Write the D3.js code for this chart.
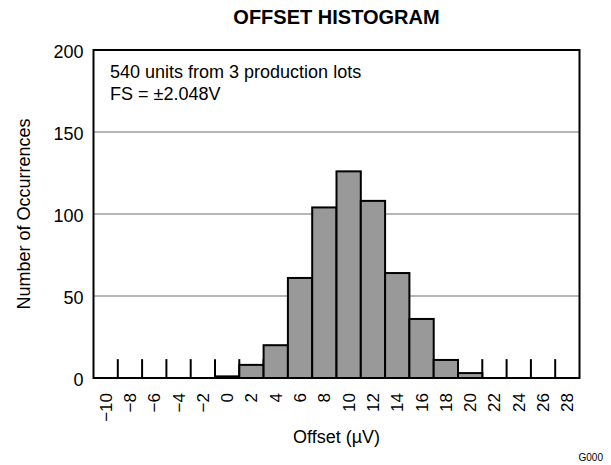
<!DOCTYPE html>
<html>
<head>
<meta charset="utf-8">
<script src="https://cdn.jsdelivr.net/npm/d3@7"></script>
<style>
  body { margin: 0; background: #fff; }
  svg text { font-family: "Liberation Sans", Arial, sans-serif; fill: #000; }
</style>
</head>
<body>
<div id="container"></div>
<script>
// offset bins (uV) and counts
const bins = [-10, -8, -6, -4, -2, 0, 2, 4, 6, 8, 10, 12, 14, 16, 18, 20, 22, 24, 26, 28];
const counts = [0, 0, 0, 0, 0, 1, 8, 20, 61, 104, 126, 108, 64, 36, 11, 3, 0, 0, 0, 0];
const yTicks = [0, 50, 100, 150, 200];
const gridValues = [50, 100, 150];
const notes = ["540 units from 3 production lots", "FS = \u00b12.048V"];

const w = 611;
const h = 465;
const plotLeft = 93.5, plotRight = 579.5, plotTop = 50, plotBottom = 378;

const svg = d3.select("#container")
  .append("svg")
  .attr("width", w)
  .attr("height", h);

const xScale = d3.scaleBand()
  .domain(bins)
  .range([plotLeft, plotRight])
  .padding(0);

const yScale = d3.scaleLinear()
  .domain([0, 200])
  .range([plotBottom, plotTop]);

// grid lines
svg.selectAll(".grid")
  .data(gridValues)
  .enter()
  .append("line")
  .attr("x1", plotLeft)
  .attr("x2", plotRight)
  .attr("y1", (d) => yScale(d))
  .attr("y2", (d) => yScale(d))
  .attr("stroke", "#6e6e6e")
  .attr("stroke-width", 1);

// short ticks between bins, rising from the baseline
svg.selectAll(".tick-mark")
  .data(bins.slice(1))
  .enter()
  .append("line")
  .attr("x1", (d) => xScale(d))
  .attr("x2", (d) => xScale(d))
  .attr("y1", yScale(0))
  .attr("y2", yScale(11.5))
  .attr("stroke", "#000")
  .attr("stroke-width", 2);

// bars
svg.selectAll("rect.bar")
  .data(bins.map((b, i) => ({ bin: b, count: counts[i] })).filter((d) => d.count > 0))
  .enter()
  .append("rect")
  .attr("class", "bar")
  .attr("x", (d) => xScale(d.bin))
  .attr("width", xScale.bandwidth())
  .attr("y", (d) => yScale(d.count))
  .attr("height", (d) => yScale(0) - yScale(d.count))
  .attr("fill", "#999999")
  .attr("stroke", "#000")
  .attr("stroke-width", 2);

// frame
svg.append("rect")
  .attr("x", plotLeft)
  .attr("y", plotTop)
  .attr("width", plotRight - plotLeft)
  .attr("height", plotBottom - plotTop)
  .attr("fill", "none")
  .attr("stroke", "#000")
  .attr("stroke-width", 2);

// y axis labels
const yAxis = d3.axisLeft(yScale).tickValues(yTicks).tickSize(0).tickPadding(10);
const yg = svg.append("g")
  .attr("transform", "translate(" + plotLeft + ",0)")
  .call(yAxis);
yg.select(".domain").remove();
yg.selectAll("text")
  .style("font-size", "18px")
  .style("font-family", "'Liberation Sans', Arial, sans-serif")
  .attr("dy", "0.4em");

// x axis labels, rotated
const xAxis = d3.axisBottom(xScale).tickSize(0).tickFormat((d) => String(d).replace("-", "\u2212"));
const xg = svg.append("g")
  .attr("transform", "translate(0," + plotBottom + ")")
  .call(xAxis);
xg.select(".domain").remove();
xg.selectAll("text")
  .style("font-size", "17px")
  .style("font-family", "'Liberation Sans', Arial, sans-serif")
  .attr("text-anchor", "end")
  .attr("y", 0)
  .attr("dy", "0.35em")
  .attr("transform", "translate(0,15) rotate(-90)");

// titles
svg.append("text")
  .attr("x", (plotLeft + plotRight) / 2)
  .attr("y", 24)
  .attr("text-anchor", "middle")
  .style("font-size", "20px")
  .style("font-weight", "bold")
  .text("OFFSET HISTOGRAM");

svg.append("text")
  .attr("x", (plotLeft + plotRight) / 2)
  .attr("y", 443)
  .attr("text-anchor", "middle")
  .style("font-size", "18px")
  .text("Offset (\u00b5V)");

svg.append("text")
  .attr("transform", "translate(30," + ((plotTop + plotBottom) / 2) + ") rotate(-90)")
  .attr("text-anchor", "middle")
  .style("font-size", "18px")
  .text("Number of Occurrences");

svg.selectAll(".note")
  .data(notes)
  .enter()
  .append("text")
  .attr("x", 110)
  .attr("y", (d, i) => 78 + i * 22)
  .style("font-size", "18px")
  .text((d) => d);

svg.append("text")
  .attr("x", 603)
  .attr("y", 461)
  .attr("text-anchor", "end")
  .style("font-size", "10px")
  .text("G000");
</script>
</body>
</html>
